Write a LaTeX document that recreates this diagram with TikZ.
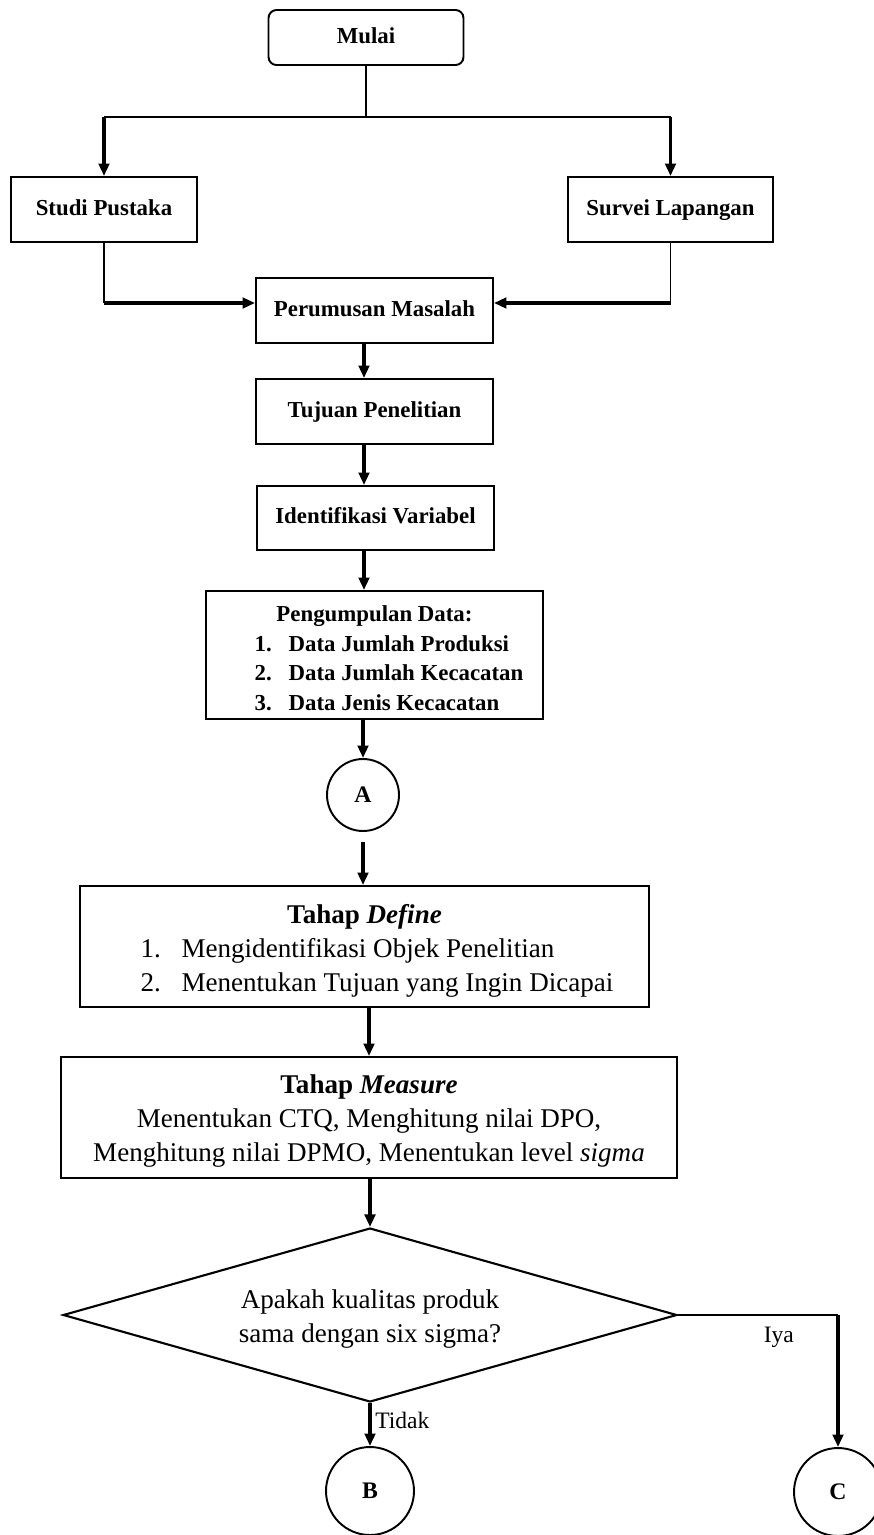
\documentclass[tikz,border=0pt]{standalone}
\usepackage{fontspec}
\setmainfont{Liberation Serif}
\usetikzlibrary{arrows.meta,shapes.geometric}

\begin{document}
\begin{tikzpicture}[x=0.02cm,y=-0.02cm,
  box/.style={draw,line width=1.1pt,inner sep=2pt,align=center},
  onerow/.style={text height=0.75em,text depth=0.08em},
  smallbf/.style={font=\fontsize{13}{16.8}\selectfont\bfseries},
  bigrm/.style={font=\fontsize{15.4}{19.4}\selectfont},
  labelrm/.style={font=\fontsize{13.4}{16}\selectfont},
  conn/.style={circle,draw,line width=1.1pt,inner sep=0pt,font=\fontsize{13.5}{16}\selectfont\bfseries},
  thinln/.style={line width=0.9pt},
  arr/.style={line width=2pt,-{Triangle[length=2.5mm,width=2.1mm]}}]
  \useasboundingbox (0,0) rectangle (874,1535);

  % top part
  \node[box,onerow,smallbf,rounded corners=0.16cm,minimum width=3.9cm,minimum height=1.1cm] (mulai) at (366,37.5) {Mulai};
  \node[box,onerow,smallbf,minimum width=3.72cm,minimum height=1.3cm] (studi) at (104,209.5) {Studi Pustaka};
  \node[box,onerow,smallbf,minimum width=4.1cm,minimum height=1.3cm] (survei) at (670.5,209.5) {Survei Lapangan};
  \node[box,onerow,smallbf,minimum width=4.74cm,minimum height=1.3cm] (perumusan) at (374.5,310.5) {Perumusan Masalah};
  \node[box,onerow,smallbf,minimum width=4.74cm,minimum height=1.3cm] (tujuan) at (374.5,411.5) {Tujuan Penelitian};
  \node[box,onerow,smallbf,minimum width=4.74cm,minimum height=1.28cm] (identifikasi) at (375.5,518) {Identifikasi Variabel};
  \node[box,smallbf,inner ysep=0pt,minimum width=6.74cm,minimum height=2.56cm] (data) at (374.5,655)
    {\begin{tabular}{@{\hspace{5.8mm}}p{6.8mm}@{}l@{}}
      \multicolumn{2}{@{}c@{}}{\rule{0pt}{17.4pt}Pengumpulan Data:}\\
      1. & Data Jumlah Produksi\\
      2. & Data Jumlah Kecacatan\\
      3. & Data Jenis Kecacatan
    \end{tabular}};
  \node[conn,minimum size=1.44cm] (A) at (363,795) {A};

  % six sigma stages
  \node[box,bigrm,minimum width=11.38cm,minimum height=2.42cm] (define) at (364.5,946.5)
    {\begin{tabular}{@{\hspace{5mm}}p{8.2mm}@{}l@{}}
      \multicolumn{2}{@{}c@{}}{\rule{0pt}{18.1pt}\textbf{Tahap \textit{Define}}}\\
      1. & Mengidentifikasi Objek Penelitian\\
      2. & Menentukan Tujuan yang Ingin Dicapai
    \end{tabular}};
  \node[box,bigrm,minimum width=12.32cm,minimum height=2.42cm] (measure) at (369,1117.5)
    {\rule{0pt}{15pt}\textbf{Tahap \textit{Measure}}\\Menentukan CTQ, Menghitung nilai DPO,\\Menghitung nilai DPMO, Menentukan level \textit{sigma}};
  \node[diamond,draw,line width=1.2pt,bigrm,align=center,aspect=3.53,inner sep=0pt,
    minimum width=12.28cm,minimum height=3.48cm] (dec) at (370,1315) {\rule{0pt}{15pt}Apakah kualitas produk\\sama dengan six sigma?};
  \node[conn,minimum size=1.76cm] (B) at (370,1491) {B};
  \node[conn,minimum size=1.76cm] (C) at (838,1492) {C};

  % connectors
  \coordinate (split) at (366,117);
  \coordinate (spine) at (364,0);
  \coordinate (joinL) at (104,303);
  \coordinate (joinR) at (survei.south |- joinL);
  \draw[thinln] (mulai) -- (split);
  \draw[thinln] (studi.north |- split) -- (survei.north |- split);
  \draw[arr] (studi.north |- split) -- (studi.north);
  \draw[arr] (survei.north |- split) -- (survei.north);
  \draw[thinln] (studi) -- (joinL);
  \draw[arr] (joinL) -- (joinL -| perumusan.west);
  \draw[thinln] (survei) -- (joinR);
  \draw[arr] (joinR) -- (joinR -| perumusan.east);
  \draw[arr] (perumusan.south -| spine) -- (tujuan.north -| spine);
  \draw[arr] (tujuan.south -| spine) -- (identifikasi.north -| spine);
  \draw[arr] (identifikasi.south -| spine) -- (data.north -| spine);
  \draw[arr] (data.south -| A) -- (A);
  \draw[arr] ([yshift=-0.2cm]A.south) -- (A.south |- define.north);
  \draw[arr] (measure.north |- define.south) -- (measure.north);
  \draw[arr] (dec.north |- measure.south) -- (dec.north);
  \draw[arr] (dec.south) -- node[pos=0.4,right,inner sep=2pt,labelrm]{Tidak} (B);
  \draw[thinln] (dec.east) -- node[pos=0.63,below=3pt,labelrm]{Iya} (dec.east -| C);
  \draw[arr] (dec.east -| C) -- (C);
\end{tikzpicture}
\end{document}
